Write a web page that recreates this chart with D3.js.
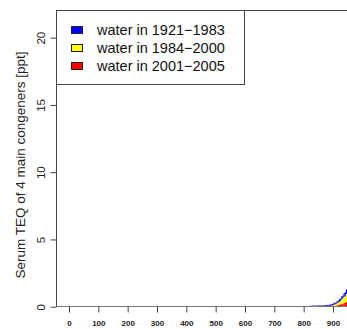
<!DOCTYPE html>
<html lang="en">
<head>
<meta charset="utf-8">
<title>Serum TEQ</title>
<script src="https://d3js.org/d3.v7.min.js"></script>
<style>
  body { margin: 0; background: #fff; }
  svg { font-family: "Liberation Sans", Arial, sans-serif; }
</style>
</head>
<body>
<div id="chart"></div>
<script>
// individuals sorted by total TEQ; only the upper tail is visible (earlier ones are ~0)
var firstRank = 820;   // rank of the first bar listed below
var binSize = 4;       // each entry covers 4 consecutive ranks
var teqBlue   = [0.07,0.07,0.08,0.08,0.08,0.08,0.09,0.09,0.09,0.09,0.10,0.10,0.10,0.11,0.11,0.11,0.10,0.10,0.11,0.10,0.12,0.13,0.11,0.15,0.13,0.18,0.16,0.24,0.20,0.28,0.26,0.34,0.30,0.38];
var teqYellow = [0,0,0,0,0,0,0,0,0,0,0,0,0,0,0,0.01,0.02,0.04,0.05,0.06,0.08,0.10,0.12,0.16,0.20,0.22,0.27,0.34,0.40,0.45,0.52,0.60,0.70,0.78];
var teqRed    = [0,0,0,0,0,0,0,0,0,0,0,0,0,0,0,0.01,0.01,0.02,0.03,0.04,0.05,0.07,0.08,0.10,0.12,0.15,0.18,0.20,0.24,0.28,0.30,0.35,0.40,0.45];

var xTicks = [0,100,200,300,400,500,600,700,800,900];
var yTicks = [0,5,10,15,20];
var legendLabels = ["water in 1921\u22121983", "water in 1984\u22122000", "water in 2001\u22122005"];
var legendColors = ["#0000ff", "#ffff00", "#ff0000"];

var W = 347, H = 329;
var svg = d3.select("#chart").append("svg")
    .attr("width", W).attr("height", H);

var x = d3.scaleLinear().domain([0, 900]).range([69, 333]);
var y = d3.scaleLinear().domain([0, 22]).range([306.7, 10.8]);

// stacked bars: red at bottom, yellow, blue on top
var rows = teqBlue.map(function(b, i) {
  return { rank: firstRank + i * binSize, red: teqRed[i], yellow: teqYellow[i], blue: b };
});
var stack = d3.stack().keys(["red", "yellow", "blue"])(rows);
var fills = { red: "#ff0000", yellow: "#ffff00", blue: "#0000ff" };

svg.append("g").selectAll("g")
  .data(stack).enter().append("g")
    .attr("fill", function(s) { return fills[s.key]; })
  .selectAll("rect")
  .data(function(s) { return s; }).enter().append("rect")
    .attr("x", function(d) { return x(d.data.rank); })
    .attr("width", x(firstRank + binSize) - x(firstRank))
    .attr("y", function(d) { return y(d[1]); })
    .attr("height", function(d) { return Math.max(0, y(d[0]) - y(d[1])); });

// plot box (left, top, bottom)
var box = svg.append("g").attr("stroke", "#444").attr("fill", "none");
box.append("line").attr("x1", 56.5).attr("x2", 56.5).attr("y1", y(22)).attr("y2", y(0));
box.append("line").attr("x1", 56.5).attr("x2", W).attr("y1", 10.5).attr("y2", 10.5);
box.append("line").attr("x1", 56.5).attr("x2", W).attr("y1", 306.5).attr("y2", 306.5)
  .attr("stroke", "#777");

// y axis, labels parallel to the axis
var yAxis = svg.append("g").attr("transform", "translate(56.5,0)")
  .call(d3.axisLeft(y).tickValues(yTicks).tickSize(6));
yAxis.select(".domain").remove();
yAxis.selectAll("line").attr("stroke", "#444");
yAxis.selectAll("text")
  .attr("font-size", 11.5).attr("fill", "#222")
  .attr("x", -16).attr("y", 0).attr("dy", "0.35em").attr("text-anchor", "middle")
  .attr("transform", "rotate(-90,-16,0)");

// x axis
var xAxis = svg.append("g").attr("transform", "translate(0,306.5)")
  .call(d3.axisBottom(x).tickValues(xTicks).tickSize(6).tickPadding(8));
xAxis.select(".domain").remove();
xAxis.selectAll("line").attr("stroke", "#444");
xAxis.selectAll("text").attr("font-size", 8).attr("fill", "#222").attr("font-weight", "bold");

// y title
svg.append("text")
  .attr("transform", "translate(20,165) rotate(-90)")
  .attr("text-anchor", "middle").attr("dy", "0.35em")
  .attr("font-size", 13.5).attr("fill", "#222")
  .text("Serum TEQ of 4 main congeners [ppt]");

// legend
var lg = svg.append("g");
lg.append("rect").attr("x", 56.5).attr("y", 10.5).attr("width", 188).attr("height", 74)
  .attr("fill", "#fff").attr("stroke", "#444");
legendLabels.forEach(function(lab, i) {
  var cy = 30 + i * 18;
  lg.append("rect").attr("x", 71.5).attr("y", cy - 3.5).attr("width", 11).attr("height", 7)
    .attr("fill", legendColors[i]).attr("stroke", "#222");
  lg.append("text").attr("x", 97).attr("y", cy).attr("dy", "0.35em")
    .attr("font-size", 14.5).attr("fill", "#111").text(lab);
});
</script>
</body>
</html>
